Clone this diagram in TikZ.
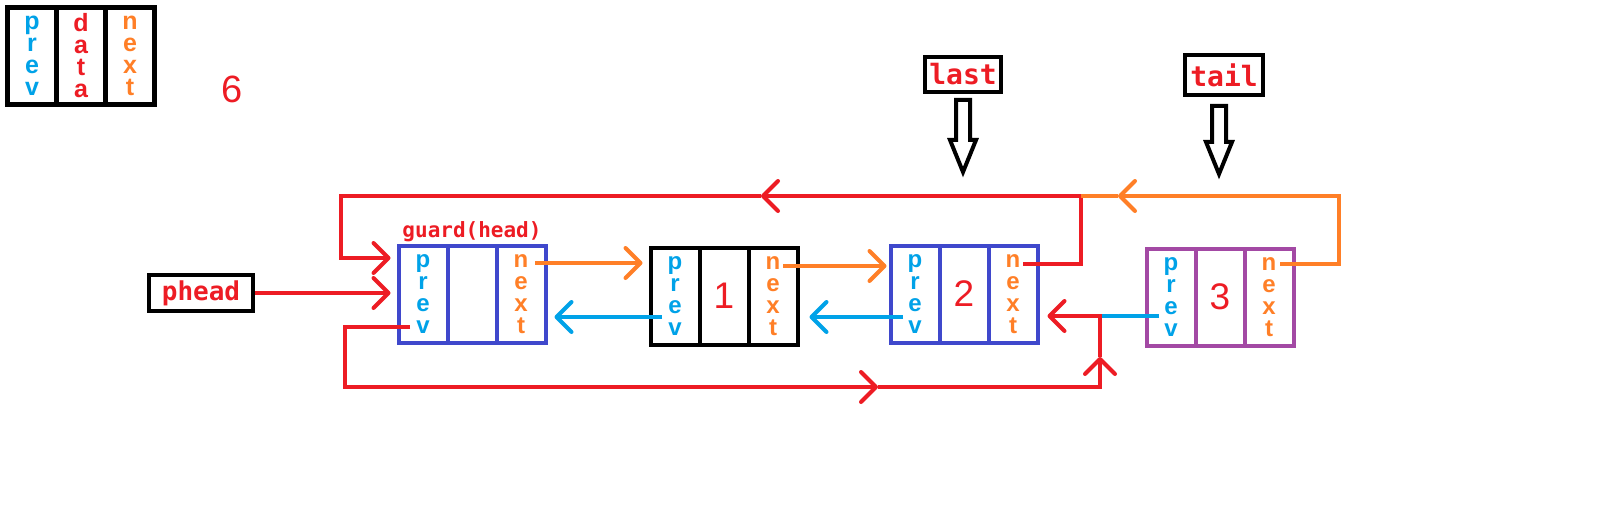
\documentclass[tikz,border=0pt]{standalone}
\usepackage{fontspec}
\setmainfont{Liberation Sans}
\setmonofont{DejaVu Sans Mono}
\usetikzlibrary{arrows.meta, positioning, calc}
\definecolor{paintred}{HTML}{ED1C24}
\definecolor{paintorange}{HTML}{FF7F27}
\definecolor{paintcyan}{HTML}{00A2E8}
\definecolor{paintindigo}{HTML}{3F48CC}
\definecolor{paintpurple}{HTML}{A349A4}

\begin{document}
\begin{tikzpicture}[
    x=1pt, y=1pt,
    % ── Cell styles ──────────────────────────────────────────────────────
    cell/.style={
        draw, rectangle, outer sep=0pt, inner sep=0pt,
        minimum width=49pt, minimum height=97pt,
        line width=4pt, align=center
    },
    prevcell/.style={
        cell, text=paintcyan,
        font=\fontsize{24}{22}\selectfont\bfseries
    },
    datacell/.style={
        cell, text=paintred,
        font=\fontsize{37}{37}\selectfont
    },
    nextcell/.style={
        cell, text=paintorange,
        font=\fontsize{24}{22}\selectfont\bfseries
    },
    legendcell/.style={
        line width=5pt, draw=black
    },
    ptrbox/.style={
        draw, line width=4pt, inner sep=0pt, text=paintred,
        font=\ttfamily\bfseries\fontsize{28}{28}\selectfont
    },
    pointer/.style={
        draw=black, line width=4pt, fill=white
    },
    % ── Connector styles ─────────────────────────────────────────────────
    arr/.style={
        -{Straight Barb[length=15pt, width=30pt, round]},
        line width=4pt
    },
    redline/.style={draw=paintred, line width=4pt},
    redarr/.style={arr, draw=paintred},
    orangeline/.style={draw=paintorange, line width=4pt},
    orangearr/.style={arr, draw=paintorange},
    bluearr/.style={arr, draw=paintcyan},
    blueline/.style={draw=paintcyan, line width=4pt}
]

\fill[white] (0,0) rectangle (1606,-532);
\useasboundingbox (0,0) rectangle (1606,-532);

% ═══════════════════════════════════════════════════════════════════════════
% 1. Legend
% ═══════════════════════════════════════════════════════════════════════════
\node[datacell, legendcell, font=\fontsize{25}{22}\selectfont\bfseries]
    (key-data) at (81,-56) {d\\a\\t\\a};
\node[prevcell, legendcell, font=\fontsize{25}{22}\selectfont\bfseries,
      left=0pt of key-data] (key-prev) {p\\r\\e\\v};
\node[nextcell, legendcell, font=\fontsize{25}{22}\selectfont\bfseries,
      right=0pt of key-data] (key-next) {n\\e\\x\\t};

\node[text=paintred, font=\fontsize{38}{38}\selectfont] (count) at (232,-89) {6};

% ═══════════════════════════════════════════════════════════════════════════
% 2. List nodes
% ═══════════════════════════════════════════════════════════════════════════
% guard
\node[datacell, draw=paintindigo] (g-data) at (472,-294) {};
\node[prevcell, draw=paintindigo, left=0pt of g-data] (g-prev) {p\\r\\e\\v};
\node[nextcell, draw=paintindigo, right=0pt of g-data] (g-next) {n\\e\\x\\t};
\node[text=paintred, inner sep=1pt, above=2pt of g-data,
      font=\ttfamily\bfseries\fontsize{21}{21}\selectfont] (guardlbl) {guard(head)};

% node 1
\node[datacell, draw=black] (n1-data) at (724,-296) {1};
\node[prevcell, draw=black, left=0pt of n1-data] (n1-prev) {p\\r\\e\\v};
\node[nextcell, draw=black, right=0pt of n1-data] (n1-next) {n\\e\\x\\t};

% node 2
\node[datacell, draw=paintindigo] (n2-data) at (964,-294) {2};
\node[prevcell, draw=paintindigo, left=0pt of n2-data] (n2-prev) {p\\r\\e\\v};
\node[nextcell, draw=paintindigo, right=0pt of n2-data] (n2-next) {n\\e\\x\\t};

% node 3
\node[datacell, draw=paintpurple] (n3-data) at (1220,-297) {3};
\node[prevcell, draw=paintpurple, left=0pt of n3-data] (n3-prev) {p\\r\\e\\v};
\node[nextcell, draw=paintpurple, right=0pt of n3-data] (n3-next) {n\\e\\x\\t};

% ═══════════════════════════════════════════════════════════════════════════
% 3. Pointers
% ═══════════════════════════════════════════════════════════════════════════
\node[ptrbox, minimum width=104pt, minimum height=36pt,
      font=\ttfamily\bfseries\fontsize{26}{26}\selectfont] (phead) at (201,-293) {phead};
\node[ptrbox, minimum width=76pt, minimum height=35pt] (last) at (963,-74.5) {last};
\node[ptrbox, minimum width=78pt, minimum height=40pt] (tail) at (1224,-75) {tail};

\draw[pointer] ($(last.south)+(-7,-6)$) -- ++(0,-40) -- ++(-6,0) -- ++(13,-32)
    -- ++(13,32) -- ++(-6,0) -- ++(0,40) -- cycle;
\draw[pointer] ($(tail.south)+(-12,-9)$) -- ++(0,-36) -- ++(-6,0) -- ++(13,-32)
    -- ++(13,32) -- ++(-6,0) -- ++(0,36) -- cycle;

% ═══════════════════════════════════════════════════════════════════════════
% 4. Links
% ═══════════════════════════════════════════════════════════════════════════
% start points inside the cells
\coordinate (g-nout)  at ($(g-next.center)+(14,31)$);
\coordinate (g-pout)  at ($(g-prev.center)+(-13,-33)$);
\coordinate (g-pin)   at ($(g-prev.west)+(0,36)$);
\coordinate (n1-nout) at ($(n1-next.center)+(10,30)$);
\coordinate (n1-pout) at ($(n1-prev.center)+(-13,-21)$);
\coordinate (n2-nout) at ($(n2-next.center)+(10,30)$);
\coordinate (n2-pout) at ($(n2-prev.center)+(-12,-23)$);
\coordinate (n3-nout) at ($(n3-next.center)+(11,33)$);
\coordinate (n3-pout) at ($(n3-prev.center)+(-12,-19)$);

% bends of the loops
\coordinate (topR)   at (1081,-196);
\coordinate (topL)   at (341,-196);
\coordinate (topmid) at (761,-196);
\coordinate (oraR)   at (1339,-196);
\coordinate (oramid) at (1118,-196);
\coordinate (botL)   at (345,-387);
\coordinate (botR)   at (1100,-387);
\coordinate (botmid) at (878,-387);
\coordinate (upmid)  at (1100,-357);
\coordinate (joint)  at (1100,-316);

% next links
\draw[orangearr, shorten >=8pt] (g-nout) -- (g-nout -| n1-prev.west);
\draw[orangearr, shorten >=4pt] (n1-nout) -- (n1-nout -| n2-prev.west);

% prev links
\draw[bluearr, shorten >=9pt] (n1-pout) -- (n1-pout -| g-next.east);
\draw[bluearr, shorten >=12pt] (n2-pout) -- (n2-pout -| n1-next.east);

% phead -> guard
\draw[redarr, shorten >=8pt] (phead.east) -- (phead.east -| g-prev.west);

% top loop: node 2 next -> guard
\draw[redarr] (n2-nout) -| (topR) -- (topmid);
\draw[redarr, shorten >=8pt] (topmid) -- (topL) |- (g-pin);

% top loop: node 3 next
\draw[orangearr] (n3-nout) -| (oraR) -- (oramid);
\draw[orangeline] (oramid) -- (topR);

% bottom loop: guard prev -> node 2
\draw[blueline] (n3-pout) -- (joint);
\draw[redarr] (g-pout) -| (botL) -- (botmid);
\draw[redarr] (botmid) -- (botR) -- (upmid);
\draw[redarr, shorten >=10pt] (upmid) -- (joint) -- (joint -| n2-next.east);

\end{tikzpicture}
\end{document}
